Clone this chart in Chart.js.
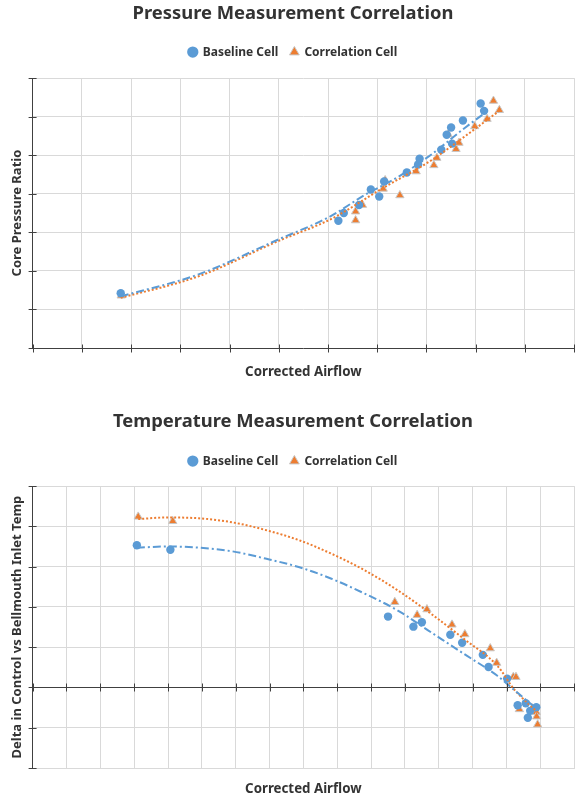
<!DOCTYPE html>
<html>
<head>
<meta charset="utf-8">
<script src="https://cdn.jsdelivr.net/npm/chart.js@4.4.0/dist/chart.umd.min.js"></script>
<style>
  html, body { margin: 0; padding: 0; background: #fff; overflow: hidden; width: 576px; height: 799px; }
  .box { position: absolute; left: 0; width: 580px; }
  #top { top: 0; height: 392px; }
  #bottom { top: 408px; height: 391px; }
</style>
</head>
<body>
<div class="box" id="top"><canvas id="pressure"></canvas></div>
<div class="box" id="bottom"><canvas id="temperature"></canvas></div>
<script>
// pressure chart
const pressureBaseX = [1.79, 6.21, 6.32, 6.63, 6.87, 7.04, 7.14, 7.60, 7.83, 7.86, 8.30, 8.41, 8.50, 8.52, 8.74, 9.10, 9.17];
const pressureBaseY = [1.42, 3.30, 3.50, 3.71, 4.11, 3.93, 4.32, 4.55, 4.76, 4.91, 5.14, 5.53, 5.72, 5.30, 5.90, 6.34, 6.15];
const pressureCorrX = [1.80, 6.56, 6.56, 6.70, 7.12, 7.16, 7.46, 7.79, 8.15, 8.21, 8.44, 8.60, 8.66, 8.98, 9.23, 9.36, 9.48];
const pressureCorrY = [1.36, 3.31, 3.54, 3.71, 4.13, 4.35, 3.96, 4.58, 4.74, 4.93, 5.54, 5.16, 5.32, 5.75, 5.94, 6.41, 6.17];
// trend lines
const pressureBaseTrendX = [1.79, 3.37, 5.00, 6.01, 6.75, 7.43, 8.10, 8.77, 9.17];
const pressureBaseTrendY = [1.34, 1.91, 2.82, 3.39, 3.97, 4.44, 5.02, 5.70, 6.08];
const pressureCorrTrendX = [1.79, 3.37, 5.00, 6.07, 7.09, 8.10, 8.77, 9.51];
const pressureCorrTrendY = [1.30, 1.86, 2.78, 3.35, 4.13, 4.87, 5.48, 6.18];

// temperature chart
const tempBaseX = [3.08, 4.07, 10.50, 11.25, 11.50, 12.34, 12.69, 13.30, 13.47, 14.02, 14.33, 14.57, 14.63, 14.70, 14.88];
const tempBaseY = [3.53, 3.42, 1.76, 1.51, 1.62, 1.31, 1.11, 0.81, 0.51, 0.22, -0.44, -0.39, -0.75, -0.58, -0.49];
const tempCorrX = [3.12, 4.14, 10.70, 11.36, 11.65, 12.39, 12.77, 13.52, 13.71, 14.20, 14.28, 14.38, 14.76, 14.88, 14.89, 14.92];
const tempCorrY = [4.24, 4.13, 2.12, 1.80, 1.94, 1.56, 1.32, 0.97, 0.61, 0.26, 0.26, -0.54, -0.52, -0.61, -0.72, -0.92];
const tempBaseTrendX = [3.08, 4.00, 4.92, 5.90, 6.88, 7.86, 8.83, 9.81, 10.79, 11.77, 12.75, 13.73, 14.31, 14.88];
const tempBaseTrendY = [3.47, 3.50, 3.47, 3.38, 3.20, 2.99, 2.70, 2.33, 1.91, 1.37, 0.83, 0.29, -0.12, -0.52];
const tempCorrTrendX = [3.12, 3.94, 4.92, 5.90, 6.88, 7.86, 8.83, 9.81, 10.79, 11.77, 12.75, 13.73, 14.22, 14.92];
const tempCorrTrendY = [4.18, 4.22, 4.20, 4.10, 3.91, 3.66, 3.32, 2.91, 2.41, 1.83, 1.20, 0.54, -0.04, -0.62];

const blue = "#5b9bd5";
const orange = "#ed7d31";
const gridColor = "#d9d9d9";
const axisColor = "#404040";
const fontFamily = "'Noto Sans', 'Open Sans', sans-serif";

function toPoints(xs, ys) {
  return xs.map((x, i) => ({ x: x, y: ys[i] }));
}

// tick marks that cross the axis lines, like the original
const crossTicks = {
  id: "crossTicks",
  afterDatasetsDraw(chart, args, opts) {
    const ctx = chart.ctx;
    const x = chart.scales.x;
    const y = chart.scales.y;
    const baseY = Math.round(y.getPixelForValue(opts.xAxisAt)) + 0.5;
    ctx.save();
    ctx.strokeStyle = axisColor;
    ctx.lineWidth = 1;
    ctx.beginPath();
    y.ticks.forEach((t) => {
      const py = Math.round(y.getPixelForValue(t.value)) + 0.5;
      ctx.moveTo(x.left - 4, py);
      ctx.lineTo(x.left + 4, py);
    });
    x.ticks.forEach((t) => {
      const px = Math.round(x.getPixelForValue(t.value)) + 0.5;
      ctx.moveTo(px, baseY - 4);
      ctx.lineTo(px, baseY + 4);
    });
    ctx.stroke();
    ctx.restore();
  },
};

// extra room under the legend
const legendGap = {
  id: "legendGap",
  beforeInit(chart, args, opts) {
    const fit = chart.legend.fit;
    chart.legend.fit = function () {
      fit.bind(chart.legend)();
      this.height += opts.gap || 0;
    };
  },
};

function createChart(canvas, title, yTitle, xMax, yMin, yMax, base, corr, baseTrend, corrTrend, pads) {
  return new Chart(canvas, {
    type: "scatter",
    data: {
      datasets: [
        {
          label: "Baseline trend",
          data: baseTrend,
          showLine: true,
          borderColor: blue,
          borderWidth: 2,
          borderDash: [8, 3, 2, 3],
          cubicInterpolationMode: "monotone",
          pointRadius: 0,
          order: 0,
        },
        {
          label: "Correlation trend",
          data: corrTrend,
          showLine: true,
          borderColor: orange,
          borderWidth: 2,
          borderDash: [2, 2],
          cubicInterpolationMode: "monotone",
          pointRadius: 0,
          order: 0,
        },
        {
          label: "Baseline Cell",
          data: base,
          pointStyle: "circle",
          pointRadius: 4.2,
          backgroundColor: blue,
          borderColor: blue,
          borderWidth: 0,
          order: 1,
        },
        {
          label: "Correlation Cell",
          data: corr,
          pointStyle: "triangle",
          pointRadius: 4.8,
          backgroundColor: orange,
          borderColor: "#c8c8c8",
          borderWidth: 1,
          order: 1,
        },
      ],
    },
    options: {
      responsive: true,
      maintainAspectRatio: false,
      animation: false,
      layout: { padding: { left: 9, right: 3, top: 0, bottom: pads.bottom } },
      scales: {
        x: {
          type: "linear",
          min: 0,
          max: xMax,
          ticks: { display: false, stepSize: 1 },
          grid: {
            color: gridColor,
            drawTicks: false,
          },
          border: { color: yMin < 0 ? gridColor : axisColor },
          title: {
            display: true,
            text: "Corrected Airflow",
            color: "#333",
            font: { family: fontFamily, size: 13.3, weight: "bold" },
            padding: { top: pads.xTitle, bottom: 0 },
          },
        },
        y: {
          min: yMin,
          max: yMax,
          ticks: { display: false, stepSize: 1 },
          grid: {
            color: (c) => (c.tick && c.tick.value === 0 && yMin < 0 ? axisColor : gridColor),
            drawTicks: false,
          },
          border: { color: axisColor },
          title: {
            display: true,
            text: yTitle,
            color: "#333",
            font: { family: fontFamily, size: 13, weight: "bold" },
            padding: { top: 0, bottom: 8 },
          },
        },
      },
      plugins: {
        crossTicks: { xAxisAt: yMin < 0 ? 0 : yMin },
        legendGap: { gap: pads.legendGap },
        title: {
          display: true,
          text: title,
          color: "#333",
          font: { family: fontFamily, size: 18.4, weight: "bold" },
          padding: { top: 3, bottom: pads.titleBottom },
        },
        legend: {
          display: true,
          position: "top",
          labels: {
            usePointStyle: true,
            boxWidth: 8,
            boxHeight: 8,
            padding: 12,
            color: "#333",
            font: { family: fontFamily, size: 12, weight: "bold" },
            filter: (item) => item.text.indexOf("trend") < 0,
          },
        },
        tooltip: { enabled: false },
      },
    },
    plugins: [crossTicks, legendGap],
  });
}

createChart(
  document.getElementById("pressure"),
  "Pressure Measurement Correlation",
  "Core Pressure Ratio",
  11, 0, 7,
  toPoints(pressureBaseX, pressureBaseY),
  toPoints(pressureCorrX, pressureCorrY),
  toPoints(pressureBaseTrendX, pressureBaseTrendY),
  toPoints(pressureCorrTrendX, pressureCorrTrendY),
  { titleBottom: 9, legendGap: 10, bottom: 12, xTitle: 16 }
);

createChart(
  document.getElementById("temperature"),
  "Temperature Measurement Correlation",
  "Delta in Control vs Bellmouth Inlet Temp",
  16, -2, 5,
  toPoints(tempBaseX, tempBaseY),
  toPoints(tempCorrX, tempCorrY),
  toPoints(tempBaseTrendX, tempBaseTrendY),
  toPoints(tempCorrTrendX, tempCorrTrendY),
  { titleBottom: 10, legendGap: 9, bottom: 2, xTitle: 13 }
);
</script>
</body>
</html>
